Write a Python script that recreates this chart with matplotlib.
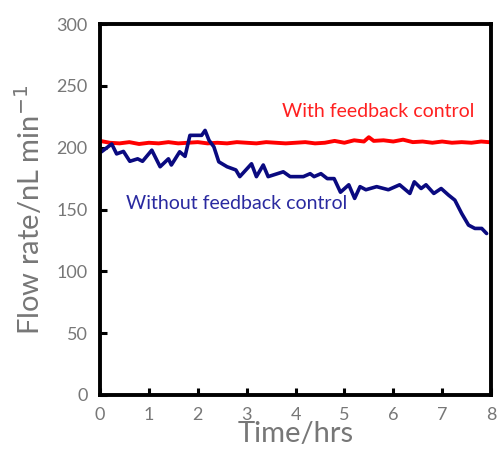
import matplotlib
matplotlib.use("Agg")
import matplotlib.pyplot as plt

# Data
t_without = [0.03, 0.24, 0.34, 0.48, 0.61, 0.77, 0.87, 1.06, 1.23, 1.40, 1.46, 1.63, 1.74, 1.84, 2.08, 2.15, 2.23, 2.33, 2.43, 2.60, 2.78, 2.86, 3.10, 3.20, 3.34, 3.44, 3.75, 3.89, 4.02, 4.16, 4.30, 4.38, 4.52, 4.65, 4.79, 4.92, 5.09, 5.21, 5.32, 5.44, 5.66, 5.90, 6.13, 6.34, 6.43, 6.57, 6.67, 6.83, 6.98, 7.13, 7.26, 7.40, 7.54, 7.67, 7.72, 7.81, 7.91]
flow_without = [196.7, 203.0, 195.0, 197.0, 189.0, 191.0, 189.0, 198.0, 184.6, 191.0, 186.0, 196.7, 193.0, 210.0, 210.0, 214.0, 206.0, 200.7, 188.6, 184.6, 182.0, 176.6, 187.0, 176.6, 186.0, 176.6, 180.5, 176.6, 176.6, 176.6, 179.0, 176.6, 179.0, 175.0, 175.0, 164.0, 170.0, 159.0, 168.5, 166.0, 168.5, 166.0, 170.0, 163.0, 172.4, 167.0, 170.0, 163.0, 167.0, 161.7, 157.6, 146.8, 137.4, 134.7, 134.7, 134.7, 130.6]

t_with = [0.0, 0.2, 0.4, 0.6, 0.8, 1.0, 1.2, 1.4, 1.6, 1.8, 2.0, 2.2, 2.4, 2.6, 2.8, 3.0, 3.2, 3.4, 3.6, 3.8, 4.0, 4.2, 4.4, 4.6, 4.8, 5.0, 5.2, 5.4, 5.5, 5.6, 5.8, 6.0, 6.2, 6.4, 6.6, 6.8, 7.0, 7.2, 7.4, 7.6, 7.8, 7.95]
flow_with = [205.5, 204.0, 203.5, 204.5, 203.0, 204.0, 203.5, 204.5, 203.5, 204.0, 204.5, 203.5, 204.0, 203.5, 204.5, 204.0, 203.5, 204.5, 204.0, 203.5, 204.0, 204.5, 203.5, 204.0, 205.5, 204.0, 206.0, 205.0, 208.5, 205.5, 206.0, 205.0, 206.5, 204.5, 205.0, 204.0, 205.0, 204.0, 204.5, 204.0, 205.0, 204.5]

xticks = [0, 1, 2, 3, 4, 5, 6, 7, 8]
yticks = [0, 50, 100, 150, 200, 250, 300]

plt.rcParams['font.family'] = ['Lato', 'DejaVu Sans']

fig = plt.figure(figsize=(4.99, 4.54), dpi=100)
ax = fig.add_axes([0.2004, 0.13, 0.7836, 0.817])

ax.plot(t_with, flow_with, color='#ff0000', lw=2.8, solid_joinstyle='round')
ax.plot(t_without, flow_without, color='#0a0a80', lw=2.6, solid_joinstyle='round', solid_capstyle='round')

ax.set_xlim(0, 8)
ax.set_ylim(0, 300)
ax.set_xticks(xticks)
ax.set_yticks(yticks)
ax.tick_params(direction='in', length=5, width=2.2, colors='black', labelcolor='#777777', labelsize=13, pad=9)
ax.tick_params(axis='x', pad=9)
for s in ax.spines.values():
    s.set_linewidth(2.8)

ax.text(5.7, 229, 'With feedback control', color='#ff2020', fontsize=14, ha='center', va='center')
ax.text(2.79, 155, 'Without feedback control', color='#2a2aa0', fontsize=14, ha='center', va='center')

ax.set_xlabel('Time/hrs', fontsize=21, color='#777777', labelpad=-2)
ax.set_ylabel('Flow rate/nL min$^{-1}$', fontsize=21, color='#777777', labelpad=8)

fig.savefig('out.png', dpi=100)
